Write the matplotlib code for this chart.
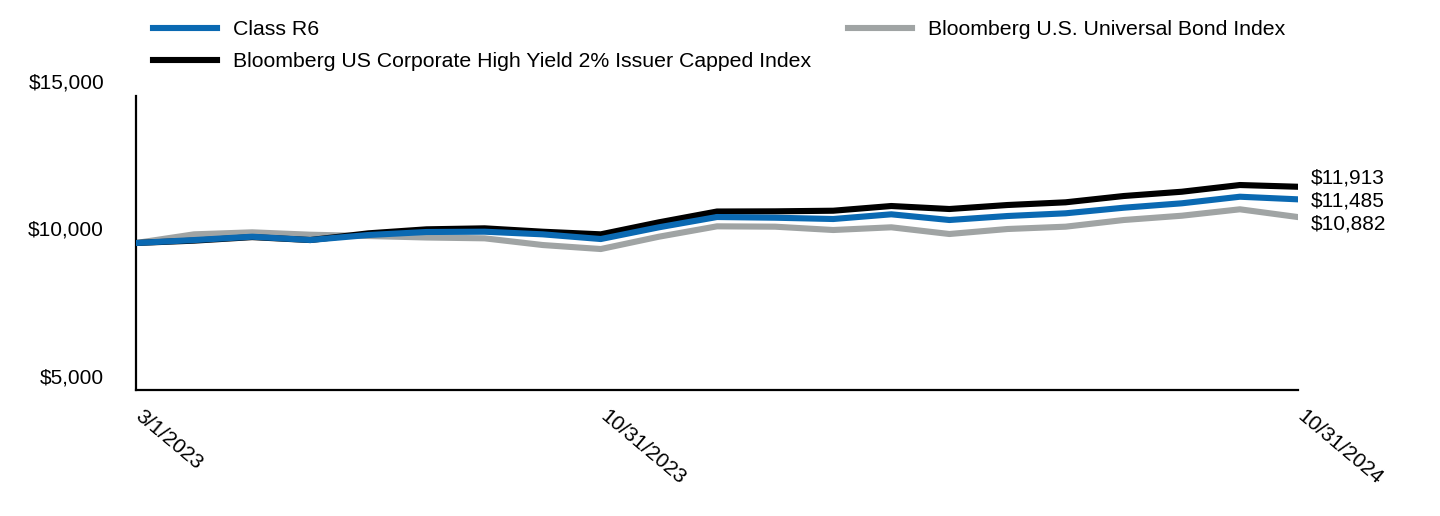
import matplotlib
matplotlib.use("Agg")
import matplotlib.pyplot as plt
import matplotlib.transforms as mtransforms
import numpy as np

plt.rcParams['font.family'] = ['Liberation Sans', 'DejaVu Sans']

# monthly values, 3/1/2023 .. 10/31/2024 (21 points)
class_r6 = [10000, 10100, 10214, 10102, 10272, 10374, 10384, 10295, 10135, 10534, 10884,
            10860, 10816, 10976, 10782, 10918, 11010, 11200, 11350, 11574, 11485]
hy_index = [10000, 10080, 10200, 10100, 10329, 10465, 10499, 10384, 10295, 10703, 11071,
            11077, 11098, 11258, 11156, 11292, 11384, 11598, 11744, 11972, 11913]
universal = [10000, 10295, 10363, 10282, 10238, 10187, 10159, 9931, 9795, 10214, 10567,
             10555, 10442, 10534, 10306, 10476, 10555, 10782, 10928, 11146, 10882]

tick_pos = [0, 8, 20]
tick_labels = ["3/1/2023", "10/31/2023", "10/31/2024"]
y_ticks = [5000, 10000, 15000]
y_labels = ["$5,000", "$10,000", "$15,000"]
end_labels = ["$11,913", "$11,485", "$10,882"]

c_blue = "#0A69B2"
c_black = "#000000"
c_gray = "#A0A4A4"
fs = 15

fig = plt.figure(figsize=(14.4, 5.16), dpi=100)
ax = fig.add_axes([136/1440, 126/516, (1298-136)/1440, 294/516])

x = np.arange(len(class_r6))
lw = 4.4
l_gray, = ax.plot(x, universal, color=c_gray, lw=lw, zorder=2, solid_joinstyle='round')
l_black, = ax.plot(x, hy_index, color=c_black, lw=lw, zorder=3, solid_joinstyle='round')
l_blue, = ax.plot(x, class_r6, color=c_blue, lw=lw, zorder=4, solid_joinstyle='round')

ax.set_xlim(0, 20)
ax.set_ylim(5000, 15000)
for s in ['top', 'right']:
    ax.spines[s].set_visible(False)
ax.spines['left'].set_linewidth(1.6)
ax.spines['bottom'].set_linewidth(1.6)

ax.set_yticks(y_ticks)
ax.set_yticklabels(y_labels, fontsize=fs)
ax.tick_params(axis='y', length=0, pad=23)
offset = mtransforms.ScaledTranslation(0, 7/100, fig.dpi_scale_trans)
for lab in ax.get_yticklabels():
    lab.set_va('baseline')
    lab.set_transform(lab.get_transform() + offset)

ax.set_xticks(tick_pos)
ax.set_xticklabels(tick_labels, fontsize=fs, rotation=-40, ha='left', va='top',
                   rotation_mode='anchor')
ax.tick_params(axis='x', length=0, pad=12)
xoff = mtransforms.ScaledTranslation(8/100, 0, fig.dpi_scale_trans)
for lab in ax.get_xticklabels():
    lab.set_transform(lab.get_transform() + xoff)

# end-of-line value labels
for series, txt, dy in [(hy_index, end_labels[0], 6.5), (class_r6, end_labels[1], -1.2),
                        (universal, end_labels[2], -5)]:
    ax.annotate(txt, xy=(x[-1], series[-1]), xytext=(9, dy), textcoords='offset points',
                fontsize=fs, va='center', ha='left', annotation_clip=False)

fig.legend([l_blue, l_black, l_gray],
           ["Class R6", "Bloomberg US Corporate High Yield 2% Issuer Capped Index",
            "Bloomberg U.S. Universal Bond Index"],
           loc='upper left', bbox_to_anchor=(153/1440, 1 - 20/516), ncol=2,
           frameon=False, fontsize=15.3, handlelength=3.0, handletextpad=0.75,
           columnspacing=1.75, borderpad=0, borderaxespad=0, labelspacing=0.62)

fig.savefig("out.png", dpi=100)
